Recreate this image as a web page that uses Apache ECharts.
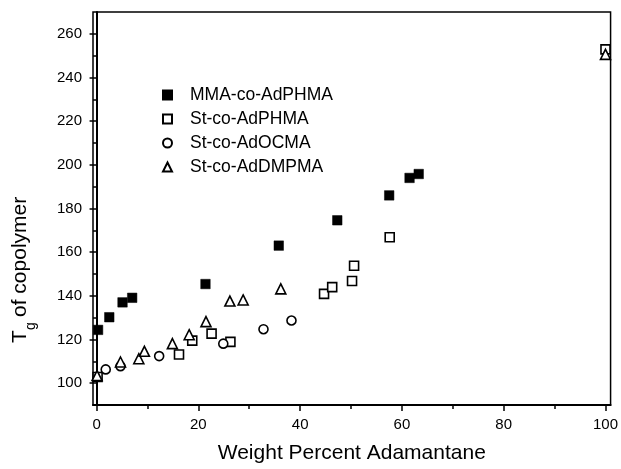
<!DOCTYPE html>
<html>
<head>
<meta charset="utf-8">
<script src="https://cdn.jsdelivr.net/npm/echarts@6/dist/echarts.min.js"></script>
<style>
  html, body { margin: 0; padding: 0; background: #fff; }
  #chart { width: 621px; height: 469px; }
</style>
</head>
<body>
<div id="chart"></div>
<script>
// Tg (deg C) vs weight percent adamantane
const seriesNames = ["MMA-co-AdPHMA", "St-co-AdPHMA", "St-co-AdOCMA", "St-co-AdDMPMA"];

const mmaAdphma = [
  [0.3, 124.4], [2.5, 130.2], [5.1, 137.0], [7.0, 139.1], [21.4, 145.4],
  [35.8, 163.0], [47.3, 174.6], [57.5, 186.0], [61.5, 194.0], [63.3, 195.8]
];
const stAdphma = [
  [0.2, 102.8], [16.2, 113.1], [18.8, 119.5], [22.6, 122.7], [26.3, 118.9],
  [44.7, 140.9], [46.3, 144.0], [50.2, 146.8], [50.6, 153.8], [57.6, 166.8],
  [100, 252.9]
];
const stAdocma = [
  [1.8, 106.3], [4.7, 107.8], [12.3, 112.4], [24.9, 118.1], [32.8, 124.7], [38.3, 128.7]
];
const stAddmpma = [
  [0.1, 103.5], [4.7, 109.7], [8.3, 111.2], [9.4, 114.6], [14.9, 118.1],
  [18.2, 122.2], [21.5, 128.2], [26.2, 137.6], [28.8, 138.1], [36.2, 143.2],
  [100, 250.6]
];

const xMajor = [0, 20, 40, 60, 80, 100];
const xMinor = [10, 30, 50, 70, 90];
const yMajor = [100, 120, 140, 160, 180, 200, 220, 240, 260];
const yMinor = [110, 130, 150, 170, 190, 210, 230, 250];

const font = "'Liberation Sans', Arial, sans-serif";

let myChart = echarts.init(document.getElementById("chart"));

function openStyle() {
  return { color: "#fff", borderColor: "#000", borderWidth: 1.6, opacity: 1 };
}

let option = {
  animation: false,
  backgroundColor: "#fff",
  textStyle: { fontFamily: font, color: "#000" },
  grid: {
    left: 93, right: 10, top: 12, bottom: 60,
    show: true, borderColor: "#000", borderWidth: 1.5, backgroundColor: "transparent"
  },
  legend: {
    orient: "vertical",
    left: 157,
    top: 81,
    itemWidth: 9,
    itemHeight: 9,
    itemGap: 6,
    textStyle: { fontFamily: font, fontSize: 17.5, color: "#000", lineHeight: 17, padding: [0, 0, 0, 13] },
    data: seriesNames
  },
  xAxis: [
    {
      type: "value", min: -0.7, max: 101,
      axisLine: { show: true, lineStyle: { color: "#000", width: 2 } },
      axisTick: { show: true, customValues: xMajor, length: 6, lineStyle: { color: "#000", width: 1.5 } },
      axisLabel: { customValues: xMajor, fontSize: 15, color: "#000", margin: 12, fontFamily: font },
      splitLine: { show: false },
      name: "Weight Percent Adamantane",
      nameLocation: "middle",
      nameGap: 38,
      nameTextStyle: { fontSize: 21, color: "#000", fontFamily: font }
    },
    {
      type: "value", min: -0.7, max: 101, position: "bottom",
      axisLine: { show: false },
      axisTick: { show: true, customValues: xMinor, length: 4, lineStyle: { color: "#000", width: 1.5 } },
      axisLabel: { show: false },
      splitLine: { show: false }
    }
  ],
  yAxis: [
    {
      type: "value", min: 90, max: 270,
      axisLine: { show: true, lineStyle: { color: "#000", width: 2 } },
      axisTick: { show: true, customValues: yMajor, length: 7, lineStyle: { color: "#000", width: 1.5 } },
      axisLabel: { customValues: yMajor, fontSize: 15, color: "#000", margin: 11, fontFamily: font },
      splitLine: { show: false }
    },
    {
      type: "value", min: 90, max: 270, position: "left",
      axisLine: { show: false },
      axisTick: { show: true, customValues: yMinor, length: 3.5, lineStyle: { color: "#000", width: 1.5 } },
      axisLabel: { show: false },
      splitLine: { show: false }
    }
  ],
  graphic: [
    {
      type: "group",
      x: 20, y: 343,
      rotation: Math.PI / 2,
      children: [
        { type: "text", x: 0, y: 0, style: { text: "T", font: "21px " + font, fill: "#000", verticalAlign: "middle" } },
        { type: "text", x: 13, y: 11, style: { text: "g", font: "14px " + font, fill: "#000", verticalAlign: "middle" } },
        { type: "text", x: 26, y: 0, style: { text: "of copolymer", font: "21px " + font, fill: "#000", verticalAlign: "middle" } }
      ]
    }
  ],
  series: [
    {
      name: seriesNames[0], type: "scatter", symbol: "rect", symbolSize: 9.5,
      itemStyle: { color: "#000", borderColor: "#000", borderWidth: 0.5, opacity: 1 },
      data: mmaAdphma, z: 4
    },
    {
      name: seriesNames[1], type: "scatter", symbol: "rect", symbolSize: 9,
      itemStyle: openStyle(), data: stAdphma, z: 3
    },
    {
      name: seriesNames[2], type: "scatter", symbol: "circle", symbolSize: 9,
      itemStyle: openStyle(), data: stAdocma, z: 3
    },
    {
      name: seriesNames[3], type: "scatter", symbol: "triangle", symbolSize: 10,
      itemStyle: openStyle(), data: stAddmpma, z: 5
    }
  ]
};

myChart.setOption(option);
</script>
</body>
</html>
